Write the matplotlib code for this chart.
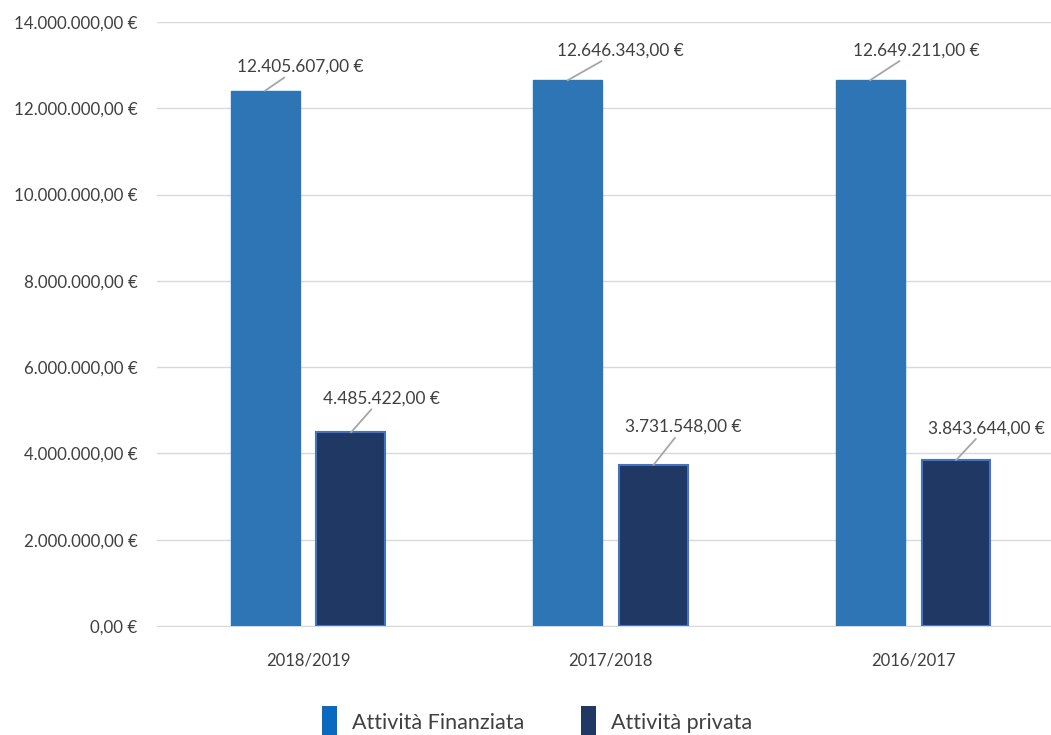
import matplotlib.pyplot as plt
import matplotlib.ticker as mticker
from matplotlib.patches import Patch
import numpy as np

# Data
anni = ['2018/2019', '2017/2018', '2016/2017']
finanziata = [12405607.00, 12646343.00, 12649211.00]
privata = [4485422.00, 3731548.00, 3843644.00]

plt.rcParams['font.family'] = ['Lato', 'DejaVu Sans']

col_fin = '#2E75B6'
col_priv = '#203864'
col_text = '#404040'


def euro(v, pos=None):
    s = f'{v:,.2f}'
    s = s.replace(',', 'X').replace('.', ',').replace('X', '.')
    return s + ' €'


fig = plt.figure(figsize=(10.51, 7.35), dpi=100)
ax = fig.add_axes([0.1494, 0.1483, 0.8506, 0.8218])

x = np.arange(len(anni))
w = 0.228
off = 0.142
b1 = ax.bar(x - off, finanziata, w, color=col_fin, edgecolor=col_fin, zorder=3)
b2 = ax.bar(x + off, privata, w, color=col_priv, edgecolor='#4472C4', linewidth=1.5, zorder=3)

ax.set_xlim(-0.499, 2.456)
ax.set_ylim(0, 14000000)
ax.yaxis.set_major_locator(mticker.MultipleLocator(2000000))
ax.yaxis.set_major_formatter(mticker.FuncFormatter(euro))
ax.set_xticks(x)
ax.set_xticklabels(anni)

ax.grid(axis='y', color='#D9D9D9', linewidth=1, zorder=0)
for s in ['top', 'right', 'left']:
    ax.spines[s].set_visible(False)
ax.spines['bottom'].set_color('#D9D9D9')
ax.tick_params(axis='y', length=0, labelsize=12.2, labelcolor=col_text, pad=14)
ax.tick_params(axis='x', length=0, labelsize=12, labelcolor=col_text, pad=19)

# value labels with leader lines (offsets in pixels)
off_fin = [(35, 24), (53, 30), (46, 30)]
off_priv = [(30, 34), (30, 38), (30, 32)]
for bars, vals, offs in [(b1, finanziata, off_fin), (b2, privata, off_priv)]:
    for r, v, (dx, dy) in zip(bars, vals, offs):
        ax.annotate(euro(v), xy=(r.get_x() + r.get_width() / 2, v),
                    xytext=(dx * 0.72, dy * 0.72), textcoords='offset points',
                    ha='center', va='center', fontsize=12.4, color=col_text,
                    arrowprops=dict(arrowstyle='-', color='#A6A6A6', lw=1.3,
                                    shrinkA=0, shrinkB=0))

handles = [Patch(facecolor='#0A6ABF', label='Attività Finanziata'),
           Patch(facecolor=col_priv, label='Attività privata')]
fig.legend(handles=handles, loc='center', bbox_to_anchor=(0.511, 0.018),
           ncol=2, frameon=False, fontsize=15.5, labelcolor=col_text,
           handlelength=0.7, handleheight=1.9, handletextpad=0.7,
           columnspacing=2.6)

fig.savefig('out.png', dpi=100)
